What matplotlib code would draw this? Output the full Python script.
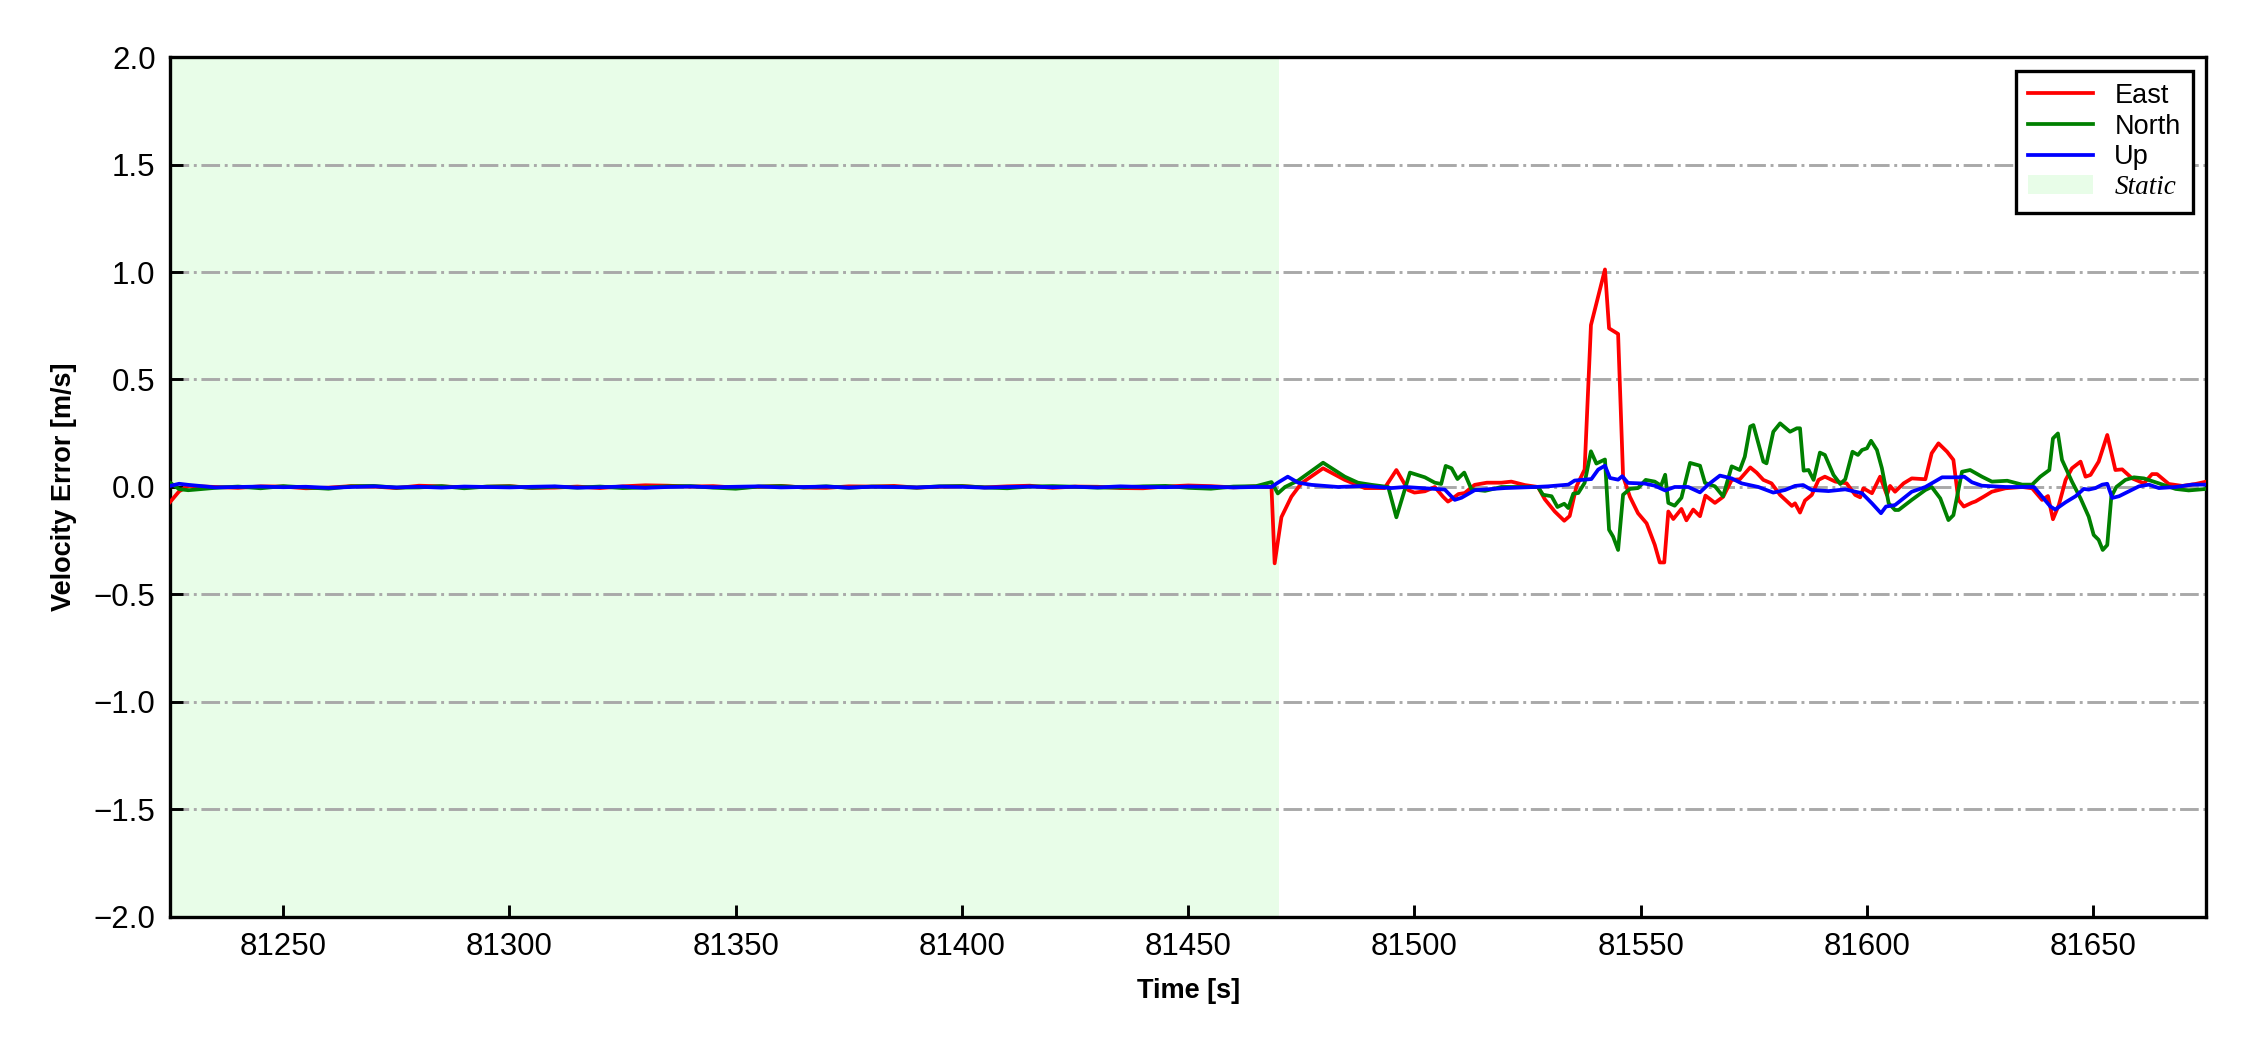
import matplotlib.pyplot as plt

plt.rcParams['font.family'] = ['Liberation Sans', 'DejaVu Sans']

# static period (near zero)
t_static = [81225, 81227, 81229, 81235, 81240, 81245, 81250, 81255, 81260, 81265,
            81270, 81275, 81280, 81285, 81290, 81295, 81300, 81305, 81310, 81315,
            81320, 81325, 81330, 81335, 81340, 81345, 81350, 81355, 81360, 81365,
            81370, 81375, 81380, 81385, 81390, 81395, 81400, 81405, 81410, 81415,
            81420, 81425, 81430, 81435, 81440, 81445, 81450, 81455, 81460, 81465]
east_static = [-0.07, -0.02, 0.005, 0.0, -0.004, 0.003, 0.002, -0.006, -0.003, 0.004,
               0.002, -0.005, 0.006, 0.003, -0.002, 0.001, 0.004, -0.004, -0.003, 0.002,
               -0.005, 0.003, 0.008, 0.006, 0.002, 0.004, -0.003, 0.001, 0.005, -0.002,
               -0.004, 0.003, 0.002, 0.005, -0.003, 0.001, 0.004, -0.002, 0.003, 0.006,
               -0.004, 0.002, 0.001, -0.005, -0.006, 0.002, 0.007, 0.004, -0.002, 0.003]
north_static = [0.02, -0.01, -0.015, -0.004, 0.002, -0.006, 0.004, -0.002, -0.008, 0.003,
                0.005, -0.003, -0.002, 0.004, -0.006, 0.002, 0.003, -0.004, 0.001, -0.003,
                0.002, -0.005, -0.002, 0.003, 0.004, -0.003, -0.008, 0.002, 0.004, -0.002,
                0.003, -0.004, 0.002, 0.001, -0.003, 0.003, 0.004, -0.002, -0.006, 0.002,
                0.004, 0.001, -0.003, -0.002, 0.003, 0.005, -0.004, -0.008, 0.002, 0.004]
up_static = [0.005, 0.015, 0.01, -0.002, 0.0, 0.002, -0.001, 0.001, -0.004, 0.0,
             0.003, -0.002, 0.001, -0.003, 0.002, 0.0, -0.002, 0.001, 0.003, -0.003,
             -0.001, 0.002, -0.004, 0.0, 0.002, -0.001, 0.001, 0.003, -0.002, 0.0,
             0.002, -0.003, 0.001, 0.0, -0.002, 0.002, 0.001, -0.003, 0.0, 0.002,
             -0.001, 0.001, -0.002, 0.003, 0.0, -0.001, 0.002, 0.001, -0.002, 0.0]

# dynamic period
east_t = [81468.4, 81469.1, 81470.6, 81472.8, 81475, 81479.8, 81484.6, 81489, 81493.4, 81496,
          81498.6, 81500, 81502.3, 81504.5, 81506.3, 81507.4, 81508, 81509.7, 81511.1, 81513.3,
          81516, 81519.2, 81521.4, 81524.4, 81527.3, 81528.8, 81531, 81533.1, 81534.3, 81535.8,
          81537.6, 81539, 81542.1, 81543, 81545, 81546.1, 81547.6, 81549.4, 81551.3, 81553.1,
          81554.2, 81555.2, 81556.1, 81557.2, 81559, 81560.1, 81561.6, 81563.1, 81564.3, 81566.4,
          81568.2, 81570.1, 81571.9, 81574.2, 81575.6, 81577.1, 81578.9, 81580.8, 81583.4, 81584.1,
          81585.2, 81586.3, 81587.8, 81589.3, 81590.7, 81593, 81595.5, 81597.4, 81598.5, 81599.2,
          81601.1, 81602.9, 81604.4, 81605.1, 81606.2, 81608.1, 81609.9, 81612.9, 81614.3, 81615.8,
          81617.7, 81619.1, 81620.2, 81621.4, 81623.2, 81624, 81625.8, 81627.6, 81630.6, 81634.3,
          81636.5, 81638.7, 81640, 81641.1, 81642.4, 81643.9, 81645.3, 81647.2, 81648.3, 81649.4,
          81651.2, 81653.1, 81654.9, 81656.4, 81658.6, 81661.2, 81663, 81664.1, 81666.7, 81669.7,
          81672.6, 81675]
east_v = [0.0, -0.355, -0.14, -0.045, 0.017, 0.087, 0.033, -0.005, -0.005, 0.079,
          -0.014, -0.026, -0.02, 0.0, -0.045, -0.068, -0.06, -0.033, -0.028, 0.01,
          0.02, 0.02, 0.025, 0.009, 0.0, -0.057, -0.114, -0.157, -0.135, 0.003,
          0.081, 0.753, 1.012, 0.738, 0.712, 0.05, -0.045, -0.122, -0.169, -0.269,
          -0.351, -0.351, -0.114, -0.149, -0.102, -0.155, -0.105, -0.136, -0.04, -0.074,
          -0.046, 0.033, 0.036, 0.091, 0.067, 0.033, 0.017, -0.037, -0.088, -0.076,
          -0.119, -0.063, -0.037, 0.033, 0.048, 0.025, 0.017, -0.037, -0.048, -0.006,
          -0.029, 0.048, -0.037, 0.005, -0.022, 0.017, 0.04, 0.036, 0.157, 0.203,
          0.164, 0.126, -0.06, -0.091, -0.073, -0.067, -0.045, -0.022, -0.006, 0.0,
          -0.006, -0.06, -0.042, -0.15, -0.084, 0.033, 0.087, 0.118, 0.048, 0.056,
          0.118, 0.242, 0.079, 0.082, 0.04, 0.017, 0.06, 0.06, 0.014, 0.005,
          0.014, 0.025]

north_t = [81468.4, 81469.8, 81471.4, 81474.3, 81479.8, 81484.6, 81487.5, 81490.5, 81494.2, 81496,
           81499, 81502.3, 81504.5, 81505.9, 81506.9, 81508.2, 81509.5, 81511, 81512.6, 81515.6,
           81519.2, 81527.3, 81528.4, 81530.3, 81531.6, 81533.1, 81534, 81535.1, 81536.2, 81537.6,
           81539, 81540.2, 81542.1, 81543, 81543.9, 81545, 81546.1, 81547.6, 81549.4, 81551.1,
           81553.1, 81554.5, 81555.4, 81556.1, 81557.5, 81559, 81560.9, 81563.1, 81564.2, 81566.4,
           81568.2, 81570.1, 81571.9, 81573, 81574.2, 81574.9, 81577.1, 81577.8, 81579.3, 81580.8,
           81583, 81584.5, 81585.2, 81586, 81587.1, 81588.2, 81589.6, 81590.7, 81592.6, 81594.1,
           81595.2, 81596.8, 81598, 81598.9, 81600, 81600.9, 81602.2, 81603.3, 81604.8, 81606.2,
           81607, 81609.9, 81612.9, 81614.3, 81616.2, 81618, 81619.1, 81621, 81622.8, 81625.4,
           81627.6, 81631, 81634.3, 81636.5, 81638.3, 81640.3, 81641.1, 81642.2, 81643.1, 81645.3,
           81647.2, 81649, 81650.1, 81651.2, 81652.1, 81653.1, 81654, 81655.1, 81657.1, 81659,
           81661.2, 81664.5, 81668.2, 81671.1, 81675]
north_v = [0.023, -0.03, 0.0, 0.03, 0.113, 0.048, 0.02, 0.01, 0.0, -0.141,
           0.067, 0.045, 0.02, 0.014, 0.098, 0.087, 0.037, 0.067, -0.011, -0.018,
           0.0, 0.0, -0.036, -0.043, -0.093, -0.078, -0.098, -0.031, -0.028, 0.019,
           0.166, 0.109, 0.128, -0.199, -0.231, -0.293, -0.036, -0.009, -0.005, 0.033,
           0.025, 0.006, 0.057, -0.074, -0.087, -0.05, 0.112, 0.099, 0.019, 0.003,
           -0.043, 0.096, 0.079, 0.141, 0.281, 0.288, 0.118, 0.11, 0.257, 0.296,
           0.257, 0.273, 0.273, 0.076, 0.079, 0.033, 0.16, 0.149, 0.056, 0.014,
           0.036, 0.164, 0.149, 0.172, 0.18, 0.215, 0.172, 0.087, -0.076, -0.107,
           -0.107, -0.06, -0.014, 0.0, -0.053, -0.154, -0.131, 0.071, 0.079, 0.048,
           0.025, 0.029, 0.011, 0.011, 0.048, 0.079, 0.226, 0.249, 0.126, 0.025,
           -0.053, -0.138, -0.223, -0.246, -0.293, -0.27, -0.045, 0.0, 0.033, 0.045,
           0.04, 0.017, -0.009, -0.016, -0.009]

up_t = [81468.4, 81469.8, 81472, 81474.3, 81477.2, 81483.1, 81489, 81494.9, 81497.9, 81506.7,
        81508.9, 81510.4, 81513.3, 81520, 81526.6, 81529.5, 81534, 81535.4, 81539.1, 81540.6,
        81542.1, 81543.2, 81545, 81545.9, 81547.2, 81550.9, 81553.1, 81555.4, 81557.5, 81560.5,
        81563.1, 81564.9, 81567.5, 81570.1, 81572.3, 81576, 81579.3, 81581.9, 81584.1, 81585.9,
        81587.8, 81591.5, 81595.2, 81598.9, 81601.1, 81603.1, 81604.2, 81606.2, 81609.9, 81612.9,
        81616.6, 81620.2, 81621.5, 81623.2, 81625.4, 81630.6, 81636.9, 81638.7, 81640.5, 81641.6,
        81643.9, 81646.1, 81647.9, 81649, 81650.5, 81652, 81653.1, 81654.2, 81655.7, 81657.9,
        81660.1, 81662.3, 81664.5, 81668.2, 81671.9, 81675]
up_v = [0.0, 0.02, 0.048, 0.02, 0.01, 0.0, 0.005, -0.005, 0.0, -0.012,
        -0.06, -0.05, -0.015, -0.005, 0.0, 0.003, 0.011, 0.03, 0.037, 0.081,
        0.099, 0.042, 0.034, 0.05, 0.019, 0.016, 0.006, -0.016, 0.0, 0.0,
        -0.025, 0.011, 0.053, 0.04, 0.017, 0.0, -0.026, -0.014, 0.005, 0.009,
        -0.014, -0.019, -0.011, -0.029, -0.076, -0.122, -0.091, -0.084, -0.022, 0.0,
        0.045, 0.045, 0.048, 0.022, 0.006, 0.0, 0.0, -0.045, -0.09, -0.105,
        -0.071, -0.043, -0.009, -0.012, -0.005, 0.011, 0.015, -0.051, -0.043, -0.02,
        0.003, 0.011, -0.005, 0.0, 0.011, 0.011]

static_end = 81470

fig = plt.figure(figsize=(7.5, 3.5), dpi=300)
ax = fig.add_axes([0.0756, 0.1267, 0.905, 0.819])

ax.axvspan(81225, static_end, color='#e8fde8', lw=0, label='Static', zorder=0)
ax.plot(t_static + east_t, east_static + east_v, color='red', lw=0.9, label='East', zorder=3)
ax.plot(t_static + north_t, north_static + north_v, color='green', lw=0.9, label='North', zorder=3)
ax.plot(t_static + up_t, up_static + up_v, color='blue', lw=0.9, label='Up', zorder=4)

ax.set_xlim(81225, 81675)
ax.set_ylim(-2, 2)
ax.set_xticks([81250, 81300, 81350, 81400, 81450, 81500, 81550, 81600, 81650])
ax.set_yticks([-2.0, -1.5, -1.0, -0.5, 0.0, 0.5, 1.0, 1.5, 2.0])
ax.ticklabel_format(axis='x', useOffset=False, style='plain')
ax.yaxis.grid(True, linestyle='-.', color='darkgray', lw=0.7, zorder=1)
ax.set_axisbelow(True)
ax.tick_params(direction='in', labelsize=7.5, width=0.7, length=3)
for s in ax.spines.values():
    s.set_linewidth(0.8)

ax.set_xlabel('Time [s]', fontsize=6.5, fontweight='bold')
ax.set_ylabel('Velocity Error [m/s]', fontsize=6.5, fontweight='bold')

h, l = ax.get_legend_handles_labels()
order = [1, 2, 3, 0]
leg = ax.legend([h[i] for i in order], [l[i] for i in order], loc='upper right',
                fontsize=6.5, fancybox=False, edgecolor='black', framealpha=1,
                handlelength=2.4, labelspacing=0.18, borderpad=0.45)
leg.get_frame().set_linewidth(0.8)
leg.get_texts()[3].set_fontfamily('Liberation Serif')
leg.get_texts()[3].set_fontstyle('italic')

fig.savefig('out.png', dpi=300)
